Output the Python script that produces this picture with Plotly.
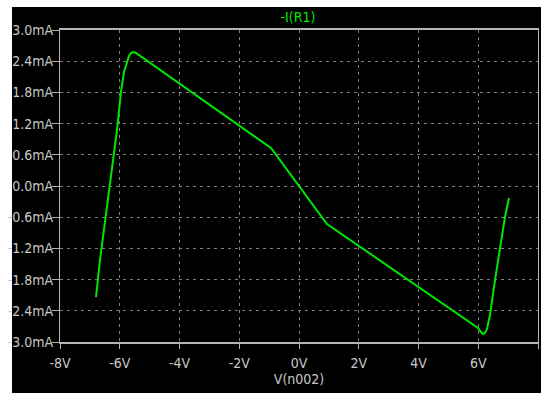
import plotly.graph_objects as go

# data (V, mA)
v_n002 = [-6.795, -6.661, -6.092, -5.958, -5.858, -5.757, -5.690, -5.623, -5.556, -5.456,
          -0.937, 0.937, 5.992, 6.092, 6.159, 6.226, 6.293, 6.393, 6.561, 6.895, 7.029]
i_r1 = [-2.135, -1.423, 1.077, 1.808, 2.192, 2.404, 2.500, 2.558, 2.577, 2.558,
        0.731, -0.731, -2.731, -2.808, -2.846, -2.827, -2.750, -2.481, -1.808, -0.596, -0.231]

x_tickvals = [-8, -6, -4, -2, 0, 2, 4, 6, 8]
x_ticktext = ["-8V", "-6V", "-4V", "-2V", "0V", "2V", "4V", "6V", "8V"]
y_tickvals = [3.0, 2.4, 1.8, 1.2, 0.6, 0.0, -0.6, -1.2, -1.8, -2.4, -3.0]
y_ticktext = ["3.0mA", "2.4mA", "1.8mA", "1.2mA", "0.6mA", "0.0mA", "-0.6mA",
              "-1.2mA", "-1.8mA", "-2.4mA", "-3.0mA"]

FONT = "DejaVu Sans Condensed, Liberation Sans Narrow, sans-serif"
TXT = "#c8c8c8"
GRID = "#808080"

fig = go.Figure()
fig.add_trace(go.Scatter(x=v_n002, y=i_r1, mode="lines",
                         line=dict(color="#00e600", width=2), showlegend=False,
                         hoverinfo="skip"))

W, H = 541, 393
L, R, T, B = 60, 3, 30, 51
pw, ph = W - L - R, H - T - B

# black background leaving white strips at top and left
fig.add_shape(type="rect", xref="paper", yref="paper",
              x0=(12 - L) / pw, x1=(W - L) / pw + 0.01,
              y0=-(B + 2) / ph, y1=1 + (T - 7) / ph,
              fillcolor="black", line=dict(width=0), layer="below")

fig.update_layout(
    width=W, height=H,
    margin=dict(l=L, r=R, t=T, b=B),
    paper_bgcolor="white", plot_bgcolor="black",
    font=dict(family=FONT, size=14, color=TXT),
    title=dict(text="-I(R1)", x=(298 - L) / pw, xref="paper", xanchor="center",
               y=1 - 17 / H, yanchor="middle",
               font=dict(family=FONT, size=14, color="#00e600")),
    xaxis=dict(range=[-8, 8], tickvals=x_tickvals, ticktext=x_ticktext,
               showgrid=True, gridcolor=GRID, griddash="3px,4px", gridwidth=1,
               zeroline=False, showline=True, linecolor="#b4b4b4", linewidth=2, mirror=True,
               ticks="outside", ticklen=5, tickcolor="#b4b4b4", ticklabelstandoff=2,
               title=dict(text="V(n002)", standoff=2, font=dict(family=FONT, size=14, color=TXT)),
               tickfont=dict(family=FONT, size=14, color=TXT)),
    yaxis=dict(range=[-3.0, 3.0], tickvals=y_tickvals, ticktext=y_ticktext,
               showgrid=True, gridcolor=GRID, griddash="3px,4px", gridwidth=1,
               zeroline=False, showline=True, linecolor="#b4b4b4", linewidth=1, mirror=True,
               ticks="outside", ticklen=7, tickcolor="#b4b4b4", ticklabelstandoff=-4,
               tickfont=dict(family=FONT, size=14, color=TXT)),
)

fig.write_html("out.html")
